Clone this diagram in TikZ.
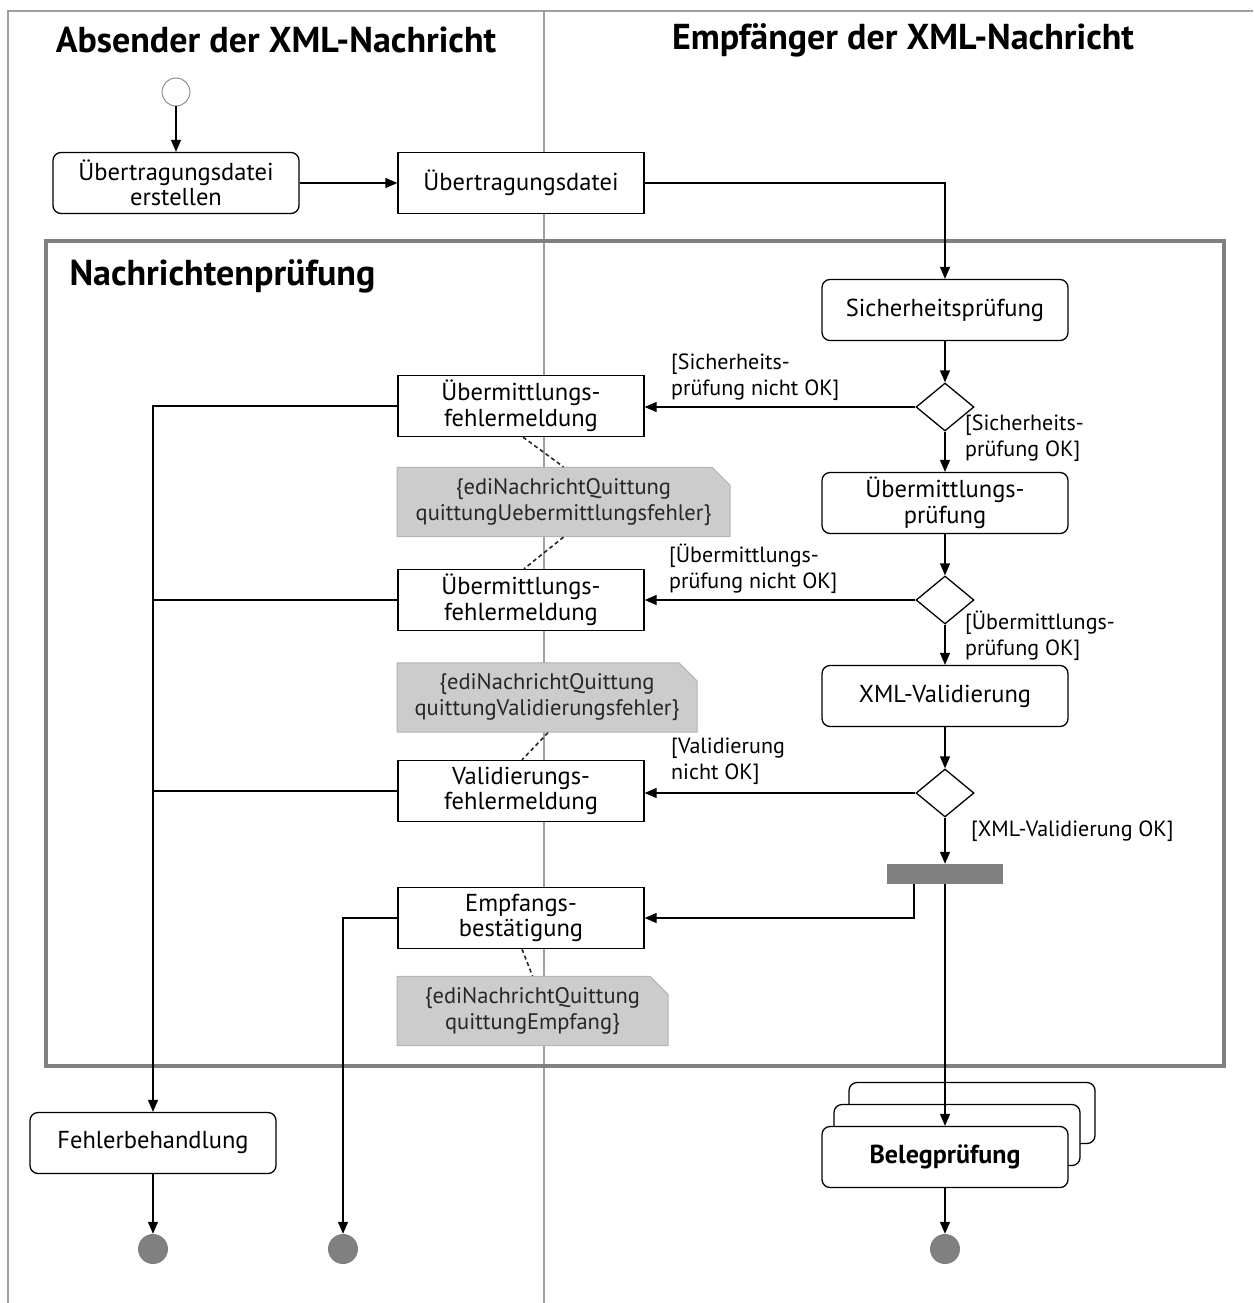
\documentclass[tikz,border=0pt]{standalone}
\usepackage{fontspec}
\setmainfont{PT Sans}
\usetikzlibrary{arrows.meta,shapes.geometric,shapes.misc}
\definecolor{lane}{HTML}{A0A0A0}
\definecolor{framegray}{HTML}{808080}
\definecolor{notefill}{HTML}{CCCCCC}
\definecolor{noteline}{HTML}{B4B4B4}
\definecolor{endfill}{HTML}{808080}
\definecolor{startline}{HTML}{909090}
\tikzset{
  bodytext/.style={font=\fontsize{24.5}{25.5}\selectfont},
  actbox/.style={draw, line width=1.3pt, rounded corners=8pt, minimum width=246pt, minimum height=61pt, inner sep=2pt, align=center, fill=white, bodytext},
  objbox/.style={draw, line width=1.3pt, minimum width=246pt, minimum height=61pt, inner sep=2pt, align=center, fill=white, bodytext},
  decbox/.style={draw, diamond, line width=1.3pt, minimum width=58pt, minimum height=48pt, inner sep=0pt},
  notebox/.style={chamfered rectangle, chamfered rectangle corners=north east, chamfered rectangle xsep=9pt, chamfered rectangle ysep=9pt, draw=noteline, fill=notefill, line width=1pt, minimum height=61pt, inner sep=2pt, align=center, text=black!85, font=\fontsize{22.5}{26}\selectfont},
  guard/.style={align=left, inner sep=1pt, font=\fontsize{22}{26}\selectfont},
  header/.style={font=\bfseries\fontsize{36}{40}\selectfont},
  conn/.style={line width=1.3pt, -{Triangle[length=12pt,width=10pt]}},
  plain/.style={line width=1.3pt},
  notelink/.style={line width=1.6pt, dash pattern=on 4pt off 3pt, draw=black!85},
  startnode/.style={circle, draw=startline, line width=1pt, minimum size=28pt, inner sep=0pt, fill=white},
  endnode/.style={circle, fill=endfill, minimum size=30pt, inner sep=0pt},
}
\begin{document}
\begin{tikzpicture}[x=1pt,y=-1pt]
\useasboundingbox (0,0) rectangle (1253,1303);
% swimlanes
\draw[lane, line width=2pt] (8,1303) -- (8,11) -- (1253,11);
\draw[lane, line width=1.5pt] (544,11) -- (544,1303);
\node[header] (hA) at (276,40) {Absender der XML-Nachricht};
\node[header] (hE) at (903,40) {Empfänger der XML-Nachricht};
% region
\draw[framegray, line width=4pt] (46,241) rectangle (1224,1066);
\node[header, anchor=west] (hN) at (66,276) {Nachrichtenprüfung};

% nodes
\node[startnode] (start) at (176,92) {};
\node[actbox] (erst) at (176,183) {Übertragungsdatei\\erstellen};
\node[objbox] (ud) at (521,183) {Übertragungsdatei};
\node[actbox] (sp) at (945,310) {Sicherheitsprüfung};
\node[decbox] (d1) at (945,407) {};
\node[objbox] (uf1) at (521,406) {Übermittlungs-\\fehlermeldung};
\node[actbox] (up) at (945,503) {Übermittlungs-\\prüfung};
\node[decbox] (d2) at (945,600) {};
\node[objbox] (uf2) at (521,600) {Übermittlungs-\\fehlermeldung};
\node[actbox] (xv) at (945,696) {XML-Validierung};
\node[decbox] (d3) at (945,793) {};
\node[objbox] (vf) at (521,791) {Validierungs-\\fehlermeldung};
\node[fill=framegray, minimum width=116pt, minimum height=20pt, inner sep=0pt] (fork) at (945,874) {};
\node[objbox] (emp) at (521,918) {Empfangs-\\bestätigung};

\node[notebox, minimum width=333pt] (n1) at (563.5,502) {\{ediNachrichtQuittung\\quittungUebermittlungsfehler\}};
\node[notebox, minimum width=300pt] (n2) at (547,697.5) {\{ediNachrichtQuittung\\quittungValidierungsfehler\}};
\node[notebox, minimum width=271pt] (n3) at (532.5,1011) {\{ediNachrichtQuittung\\quittungEmpfang\}};

\node[actbox] (fb) at (153,1143) {Fehlerbehandlung};
\node[actbox] (bp3) at (972,1113) {};
\node[actbox] (bp2) at (957,1135) {};
\node[actbox, font=\bfseries\fontsize{26}{28}\selectfont] (bp) at (945,1157) {Belegprüfung};

\node[endnode] (e1) at (153,1249) {};
\node[endnode] (e2) at (343,1249) {};
\node[endnode] (e3) at (945,1249) {};

% guards
\node[guard, anchor=south west] (g1) at (670,402) {[Sicherheits-\\prüfung nicht OK]};
\node[guard, anchor=north west] (g2) at (964,414) {[Sicherheits-\\prüfung OK]};
\node[guard, anchor=south west] (g3) at (668,595) {[Übermittlungs-\\prüfung nicht OK]};
\node[guard, anchor=north west] (g4) at (964,610) {[Übermittlungs-\\prüfung OK]};
\node[guard, anchor=south west] (g5) at (670,786) {[Validierung\\nicht OK]};
\node[guard, anchor=west] (g6) at (970,831) {[XML-Validierung OK]};

% connectors
\draw[conn] (start) -- (erst);
\draw[conn] (erst) -- (ud);
\draw[conn] (ud.east) -| (sp.north);
\draw[conn] (sp) -- (d1);
\draw[conn] (d1.west) -- (uf1.east |- d1.west);
\draw[conn] (d1) -- (up);
\draw[conn] (up) -- (d2);
\draw[conn] (d2.west) -- (uf2.east |- d2.west);
\draw[conn] (d2) -- (xv);
\draw[conn] (xv) -- (d3);
\draw[conn] (d3.west) -- (vf.east |- d3.west);
\draw[conn] (d3) -- (fork);
\draw[conn] (fork.south) -- (bp.north);
\draw[conn] ([xshift=-31pt]fork.south) |- (emp.east);
\draw[conn] (uf1.west) -| (fb.north);
\draw[plain] (uf2.west) -- (uf2.west -| fb.north);
\draw[plain] (vf.west) -- (vf.west -| fb.north);
\draw[conn] (emp.west) -| (e2.north);
\draw[conn] (fb) -- (e1);
\draw[conn] (bp) -- (e3);

% note links
\draw[notelink] ([xshift=2pt]uf1.south) -- (n1.north);
\draw[notelink] (n1.south) -- ([xshift=3pt]uf2.north);
\draw[notelink] ([xshift=1pt]n2.south) -- ([xshift=1pt]vf.north);
\draw[notelink] ([xshift=1pt]emp.south) -- (n3.north);
\end{tikzpicture}
\end{document}
